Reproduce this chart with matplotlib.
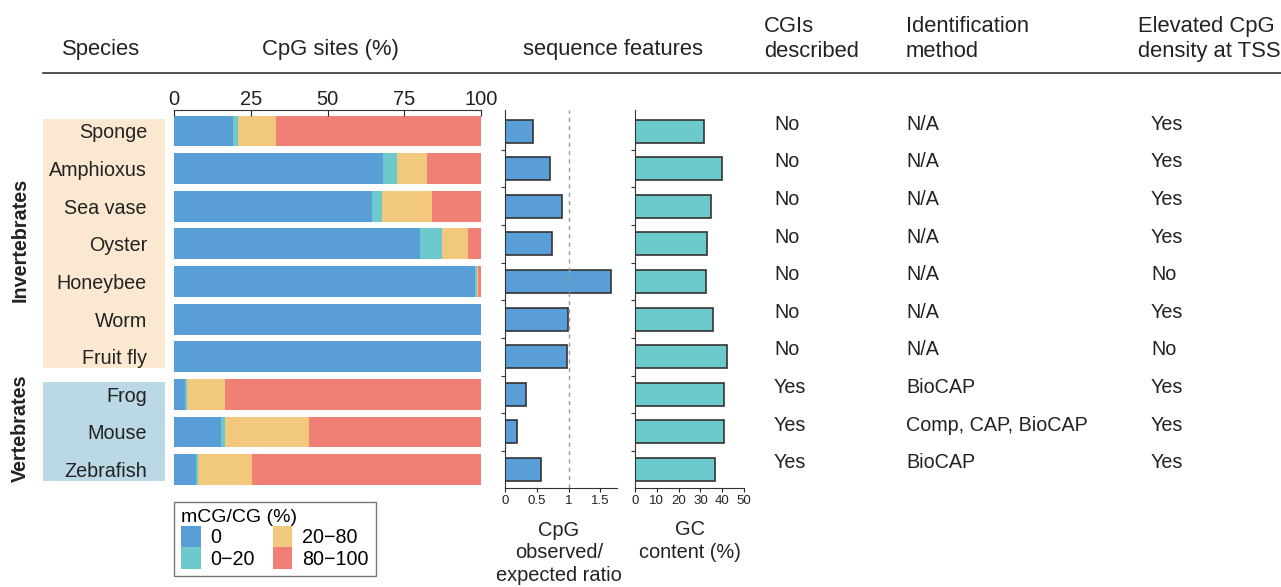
import matplotlib
matplotlib.use('Agg')
import matplotlib.pyplot as plt
from matplotlib.patches import Rectangle, Patch

plt.rcParams['font.family'] = ['Liberation Sans', 'DejaVu Sans']

W, H = 1281, 587

species = ['Sponge', 'Amphioxus', 'Sea vase', 'Oyster', 'Honeybee', 'Worm',
           'Fruit fly', 'Frog', 'Mouse', 'Zebrafish']
groups = [('Invertebrates', 0, 6, '#FBE8D0'), ('Vertebrates', 7, 9, '#BBD8E6')]

# share of CpG sites in each methylation class (%)
pct_0 = [19.2, 68.2, 64.6, 80.2, 98.2, 100.0, 100.0, 3.6, 15.3, 7.2]
pct_0_20 = [1.7, 4.5, 3.2, 7.2, 0.5, 0.0, 0.0, 0.6, 1.3, 0.6]
pct_20_80 = [12.4, 9.8, 16.3, 8.5, 0.3, 0.0, 0.0, 12.4, 27.4, 17.6]
pct_80_100 = [66.7, 17.5, 15.9, 4.1, 1.0, 0.0, 0.0, 83.4, 56.0, 74.6]
classes = ['0', '0\u221220', '20\u221280', '80\u2212100']
class_colors = ['#5A9ED8', '#6CC9CC', '#F2C87C', '#F08076']

cpg_oe = [0.44, 0.71, 0.89, 0.74, 1.67, 0.99, 0.98, 0.33, 0.19, 0.56]
gc_content = [31.6, 40.0, 35.0, 32.8, 32.5, 35.9, 42.3, 40.8, 40.6, 36.8]

cgis = ['No'] * 7 + ['Yes'] * 3
method = ['N/A'] * 7 + ['BioCAP', 'Comp, CAP, BioCAP', 'BioCAP']
elevated = ['Yes', 'Yes', 'Yes', 'Yes', 'No', 'Yes', 'No', 'Yes', 'Yes', 'Yes']

TXT = '#222222'


def px_axes(x0, y0, x1, y1):
    # pixel box (top-left origin) -> figure axes
    return fig.add_axes([x0 / W, 1 - y1 / H, (x1 - x0) / W, (y1 - y0) / H])


def fx(x):
    return x / W


def fy(y):
    return 1 - y / H


fig = plt.figure(figsize=(W / 100, H / 100), dpi=100)

Y_TOP, Y_BOT = 110, 488
YLIM = (9.49, -0.56)
rows = list(range(len(species)))

# background table axes (pixel x, row y)
tab = px_axes(0, Y_TOP, W, Y_BOT)
tab.set_xlim(0, W)
tab.set_ylim(*YLIM)
tab.axis('off')
for name, start, end, color in groups:
    tab.add_patch(Rectangle((43, start - 0.32), 122, end - start + 0.62,
                            facecolor=color, edgecolor='none', clip_on=False))
    tab.text(20, (start + end) / 2 - 0.1, name, rotation=90, ha='center', va='center',
             fontsize=14.2, fontweight='bold', color=TXT)
for i, sp in enumerate(species):
    tab.text(147, i + 0.05, sp, ha='right', va='center', fontsize=14.2, color=TXT)
    tab.text(774, i - 0.18, cgis[i], ha='left', va='center', fontsize=14.2, color=TXT)
    tab.text(906, i - 0.18, method[i], ha='left', va='center', fontsize=14.2, color=TXT)
    tab.text(1151, i - 0.18, elevated[i], ha='left', va='center', fontsize=14.2, color=TXT)

# stacked CpG sites
ax1 = px_axes(174, Y_TOP, 481, Y_BOT)
left = [0.0] * len(species)
for vals, color in zip([pct_0, pct_0_20, pct_20_80, pct_80_100], class_colors):
    ax1.barh(rows, vals, left=left, height=0.82, color=color, edgecolor='none')
    left = [l + v for l, v in zip(left, vals)]
ax1.set_xlim(0, 100)
ax1.set_ylim(*YLIM)
for s in ['left', 'right', 'bottom']:
    ax1.spines[s].set_visible(False)
ax1.spines['top'].set_color('#333333')
ax1.xaxis.tick_top()
ax1.set_xticks([0, 25, 50, 75, 100])
ax1.tick_params(axis='x', labelsize=14.5, length=4, direction='in', pad=1, colors=TXT)
ax1.set_yticks([])

# CpG observed / expected
ax2 = px_axes(505, Y_TOP, 617, Y_BOT)
ax2.barh(rows, cpg_oe, height=0.61, color='#5A9ED8', edgecolor='#333333', linewidth=1.2)
ax2.axvline(1, color='#999999', linestyle=(0, (3, 3)), linewidth=1)
ax2.set_xlim(0, 1.76)
ax2.set_xticks([0, 0.5, 1, 1.5])
ax2.set_xticklabels(['0', '0.5', '1', '1.5'])

# GC content
ax3 = px_axes(635, Y_TOP, 744, Y_BOT)
ax3.barh(rows, gc_content, height=0.61, color='#6CC9CC', edgecolor='#333333', linewidth=1.2)
ax3.set_xlim(0, 50)
ax3.set_xticks(range(0, 51, 10))

for ax in (ax2, ax3):
    ax.set_ylim(*YLIM)
    ax.spines['top'].set_visible(False)
    ax.spines['right'].set_visible(False)
    for s in ['left', 'bottom']:
        ax.spines[s].set_color('#333333')
    ax.set_yticks([r + 0.5 for r in rows[:-1]])
    ax.set_yticklabels([])
    ax.tick_params(axis='y', length=3, colors='#333333')
    ax.tick_params(axis='x', labelsize=9.5, length=3, pad=2, colors=TXT)

# headers
hdr = dict(fontsize=15.8, color=TXT, va='center')
fig.text(fx(101), fy(50), 'Species', ha='center', **hdr)
fig.text(fx(330), fy(50), 'CpG sites (%)', ha='center', **hdr)
fig.text(fx(613), fy(50), 'sequence features', ha='center', **hdr)
fig.text(fx(764), fy(39), 'CGIs\ndescribed', ha='left', linespacing=1.3, **hdr)
fig.text(fx(906), fy(39), 'Identification\nmethod', ha='left', linespacing=1.3, **hdr)
fig.text(fx(1138), fy(39), 'Elevated CpG\ndensity at TSS', ha='left', linespacing=1.3, **hdr)
fig.add_artist(plt.Line2D([fx(43), fx(1281)], [fy(73), fy(73)], color='#333333', linewidth=1.2))

fig.text(fx(559), fy(553), 'CpG\nobserved/\nexpected ratio', ha='center', va='center',
         fontsize=14.4, color=TXT, linespacing=1.25)
fig.text(fx(690), fy(541), 'GC\ncontent (%)', ha='center', va='center',
         fontsize=14.4, color=TXT, linespacing=1.25)

handles = [Patch(facecolor=c, edgecolor='none') for c in class_colors]
leg = fig.legend(handles, classes, title='mCG/CG (%)', ncol=2, loc='upper left',
                 bbox_to_anchor=(fx(174), fy(502)), fontsize=14.2, title_fontsize=14,
                 frameon=True, fancybox=False, edgecolor='#555555', alignment='left',
                 handlelength=1.0, handleheight=1.3, handletextpad=0.5,
                 columnspacing=0.9, labelspacing=0.0, borderpad=0.35, borderaxespad=0)
leg.get_frame().set_linewidth(1.0)

fig.savefig('out.png', dpi=100)
